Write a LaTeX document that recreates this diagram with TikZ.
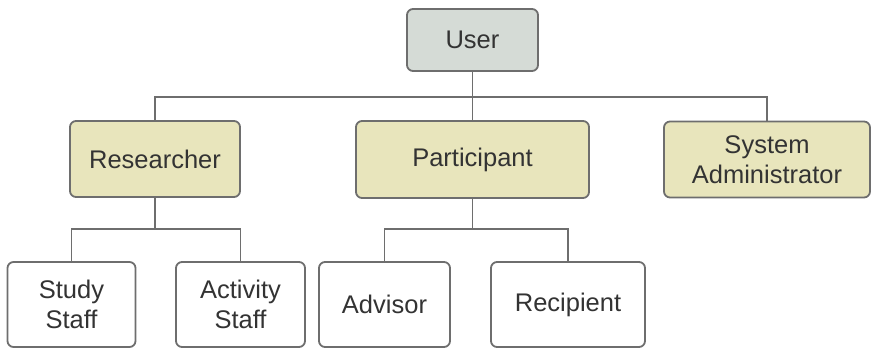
\documentclass[tikz,border=0pt]{standalone}
\usepackage{fontspec}
\setmainfont{Liberation Sans}
\definecolor{edge}{HTML}{6E6E6E}
\definecolor{ink}{HTML}{333333}
\definecolor{topfill}{HTML}{D5DBD6}
\definecolor{rolefill}{HTML}{E8E5BC}
\begin{document}
\begin{tikzpicture}[x=1pt,y=-1pt,
  box/.style={draw=edge,line width=1.8pt,rounded corners=6pt,align=center,
    text=ink,inner sep=0pt,font=\fontsize{25.5}{29.5}\selectfont},
  toprole/.style={box,fill=topfill},
  role/.style={box,fill=rolefill},
  leaf/.style={box,fill=white},
  wire/.style={draw=edge,line width=1.8pt}]
\useasboundingbox (0,0) rectangle (871,348);

% top level
\node[toprole,minimum width=131pt,minimum height=62pt] (user) at (472.5,40) {User};

% roles
\node[role,minimum width=170pt,minimum height=76pt] (res) at (155,159) {Researcher};
\node[role,minimum width=233pt,minimum height=77pt] (par) at (472.5,159.5) {Participant};
\node[role,minimum width=206pt,minimum height=76pt] (sa) at (767,159.5) {System\\Administrator};

% leaves
\node[leaf,minimum width=128pt,minimum height=85pt] (ss) at (71.5,304.5) {Study\\Staff};
\node[leaf,minimum width=129pt,minimum height=85pt] (as) at (240.5,304.5) {Activity\\Staff};
\node[leaf,minimum width=131pt,minimum height=85pt] (adv) at (384.5,304.5) {Advisor};
\node[leaf,minimum width=154pt,minimum height=85pt] (rec) at (568,304.5) {Recipient};

% bus junctions
\coordinate (b0) at (472.5,97);
\coordinate (b1) at (155,229);
\coordinate (b2) at (472.5,229);

% connectors
\draw[wire] (user.south) -- (b0);
\draw[wire] (res.north) |- (b0) -| (sa.north);
\draw[wire] (b0) -- (par.north);
\draw[wire] (res.south) -- (b1);
\draw[wire] (ss.north) |- (b1) -| (as.north);
\draw[wire] (par.south) -- (b2);
\draw[wire] (adv.north) |- (b2) -| (rec.north);
\end{tikzpicture}
\end{document}
